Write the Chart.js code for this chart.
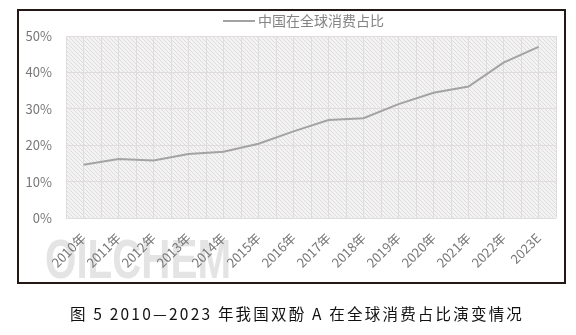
<!DOCTYPE html>
<html>
<head>
<meta charset="utf-8">
<script src="https://cdn.jsdelivr.net/npm/chart.js@4.4.1/dist/chart.umd.min.js"></script>
<style>
  body { margin: 0; background: #fff; width: 576px; height: 335px; position: relative; overflow: hidden; }
  #frame { position: absolute; left: 17px; top: 9px; width: 545px; height: 271px; border: 2px solid #231815; pointer-events: none; }
  #chart { position: absolute; left: 0; top: 0; }
  #cap { position: absolute; left: 0; width: 594px; top: 302px; text-align: center; font-family: "Noto Sans CJK SC", sans-serif; font-size: 15.5px; letter-spacing: 2.2px; color: #111; }
</style>
</head>
<body>
<canvas id="chart" width="576" height="335"></canvas>
<div id="frame"></div>
<div id="cap">图 5 2010—2023 年我国双酚 A 在全球消费占比演变情况</div>
<script>
// data
var years = ['2010年', '2011年', '2012年', '2013年', '2014年', '2015年', '2016年',
             '2017年', '2018年', '2019年', '2020年', '2021年', '2022年', '2023E']
var chinaShare = [14.6, 16.2, 15.8, 17.6, 18.2, 20.4, 23.8, 26.9, 27.4, 31.3, 34.4, 36.1, 42.7, 47.0]
var seriesName = '中国在全球消费占比'
var yMax = 50
var yStep = 10
var watermark = 'OILCHEM'

var grey = '#777777'
var gridColor = '#e0dcdc'

// diagonal hatch for the plot area
function makeHatch() {
  var c = document.createElement('canvas')
  c.width = 4; c.height = 4
  var g = c.getContext('2d')
  g.fillStyle = '#f4f3f3'
  g.fillRect(0, 0, 4, 4)
  g.strokeStyle = '#dedcdc'
  g.lineWidth = 1
  g.beginPath()
  g.moveTo(-1, -1); g.lineTo(5, 5)
  g.moveTo(3, -1); g.lineTo(5, 1)
  g.moveTo(-1, 3); g.lineTo(1, 5)
  g.stroke()
  return g.createPattern(c, 'repeat')
}

var backdrop = {
  id: 'backdrop',
  beforeDraw: function(chart) {
    var ctx = chart.ctx, a = chart.chartArea
    ctx.save()
    ctx.fillStyle = makeHatch()
    ctx.fillRect(a.left, a.top, a.right - a.left, a.bottom - a.top)
    // faded watermark behind the axis labels
    ctx.font = 'bold 56px "Liberation Sans Narrow", "Liberation Sans", sans-serif'
    var w = ctx.measureText(watermark).width
    var grad = ctx.createLinearGradient(0, 237, 0, 278)
    grad.addColorStop(0, '#e4e4e4')
    grad.addColorStop(0.5, '#b4b4b4')
    grad.addColorStop(1, '#dcdcdc')
    ctx.fillStyle = grad
    ctx.translate(45, 278)
    ctx.scale(186 / w, 1)
    ctx.textBaseline = 'alphabetic'
    ctx.fillText(watermark, 0, 0)
    ctx.restore()
  }
}

var lineLegend = {
  id: 'lineLegend',
  afterDraw: function(chart) {
    var ctx = chart.ctx
    var ds = chart.data.datasets[0]
    ctx.save()
    ctx.strokeStyle = ds.borderColor
    ctx.lineWidth = 2
    ctx.beginPath()
    ctx.moveTo(223, 21)
    ctx.lineTo(255, 21)
    ctx.stroke()
    ctx.fillStyle = '#858585'
    ctx.font = '14px "Noto Sans CJK SC", sans-serif'
    ctx.textBaseline = 'middle'
    ctx.fillText(ds.label, 258, 21)
    ctx.restore()
  }
}

new Chart(document.getElementById('chart'), {
  type: 'line',
  data: {
    labels: years,
    datasets: [{
      label: seriesName,
      data: chinaShare,
      borderColor: '#a3a3a3',
      borderWidth: 2,
      pointRadius: 0,
      tension: 0,
      xAxisID: 'x',
      yAxisID: 'y'
    }]
  },
  options: {
    responsive: false,
    animation: false,
    layout: { padding: { left: 20, right: 20, top: 36, bottom: 67 } },
    plugins: { legend: { display: false }, tooltip: { enabled: false } },
    scales: {
      x: {
        offset: true,
        grid: { color: gridColor, offset: true, drawTicks: false },
        border: { display: false },
        ticks: {
          color: grey, minRotation: 45, maxRotation: 45, padding: 12,
          font: { family: '"Noto Sans CJK SC", sans-serif', size: 13 }
        },
        afterFit: function(s) { s.height = 50 }
      },
      x2: {
        type: 'category',
        labels: years,
        position: 'bottom',
        offset: true,
        grid: { color: gridColor, offset: false, drawTicks: false },
        border: { display: false },
        ticks: { display: false },
        afterFit: function(s) { s.height = 0 }
      },
      y: {
        min: 0,
        max: yMax,
        grid: { color: gridColor, drawTicks: false },
        border: { display: false },
        ticks: {
          stepSize: yStep, color: grey, padding: 14,
          font: { family: '"Noto Sans CJK SC", sans-serif', size: 13 },
          callback: function(v) { return v + '%' }
        },
        afterFit: function(s) { s.width = 46 }
      }
    }
  },
  plugins: [backdrop, lineLegend]
})
</script>
</body>
</html>
